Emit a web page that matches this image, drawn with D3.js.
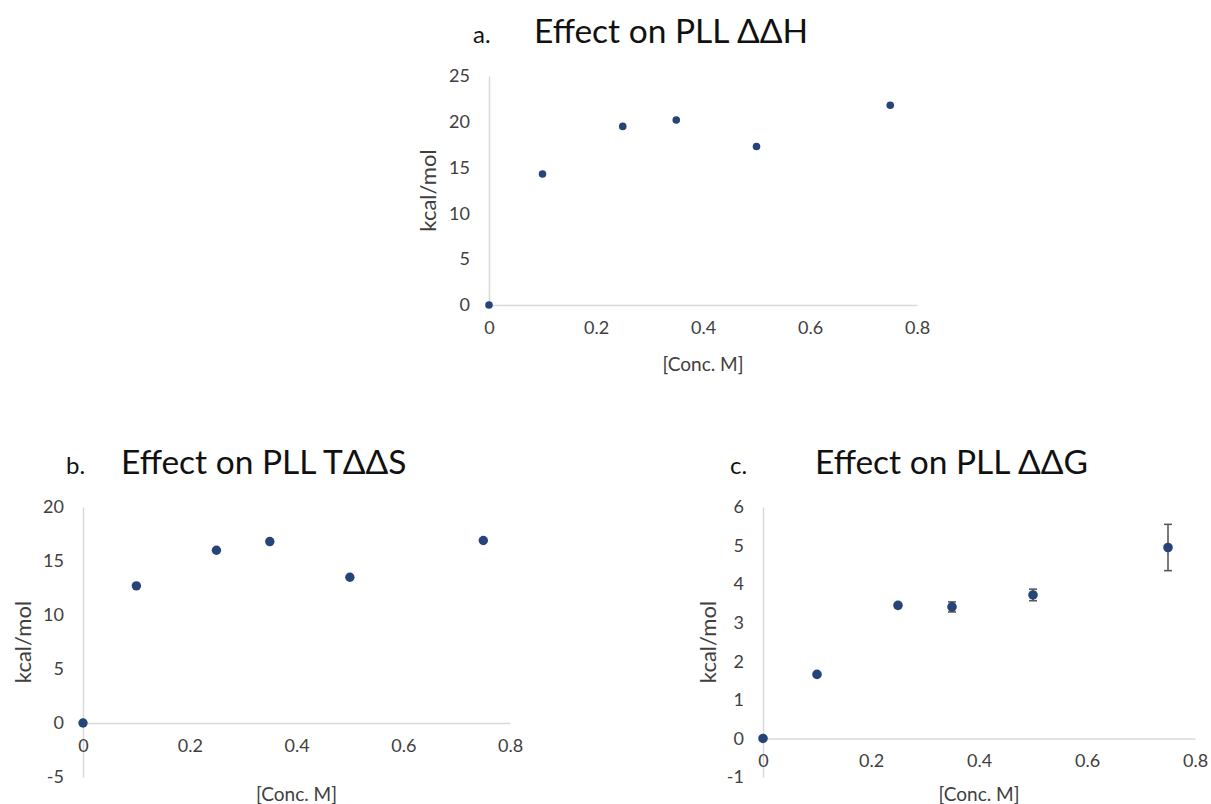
<!DOCTYPE html>
<html><head><meta charset="utf-8">
<script src="https://cdn.jsdelivr.net/npm/d3@7"></script>
<style>
html,body{margin:0;padding:0;background:#fff;}
svg{display:block;}
text{font-family:Lato,"Open Sans","Noto Sans",sans-serif;}
</style></head>
<body>
<svg id="chart" width="1211" height="804"></svg>
<script>
// ---- data ----
const conc = [0, 0.1, 0.25, 0.35, 0.5, 0.75];
const dH   = [0, 14.3, 19.5, 20.2, 17.3, 21.8];
const TdS  = [0, 12.7, 16.0, 16.8, 13.5, 16.9];
const dG   = [0, 1.66, 3.45, 3.41, 3.72, 4.95];
const dGerr= [0, 0.03, 0.05, 0.13, 0.15, 0.60];
const xTicks = [0, 0.2, 0.4, 0.6, 0.8];
const yTicksA = [0, 5, 10, 15, 20, 25];
const yTicksB = [-5, 0, 5, 10, 15, 20];
const yTicksC = [-1, 0, 1, 2, 3, 4, 5, 6];
const panelLetters = ["a.", "b.", "c."];
const titles = ["Effect on PLL ΔΔH", "Effect on PLL TΔΔS", "Effect on PLL ΔΔG"];
const xTitle = "[Conc. M]";
const yTitle = "kcal/mol";

// ---- layout ----
const panels = [
  {vals: dH,  err: null,  yDom:[0,25], yT:yTicksA, x0:489, x1:917, yTop:76,  yBot:305, r:3.8,
   letterX:473, titleX:534, titleY:43, yTitleX:428, xTitleY:364},
  {vals: TdS, err: null,  yDom:[-5,20], yT:yTicksB, x0:83, x1:510, yTop:507, yBot:777, r:4.7,
   letterX:66, titleX:121, titleY:474, yTitleX:23, xTitleY:794},
  {vals: dG,  err: dGerr, yDom:[-1,6], yT:yTicksC, x0:763, x1:1195, yTop:507, yBot:777, r:4.8,
   letterX:730, titleX:815, titleY:474, yTitleX:708, xTitleY:794}
];

const svg = d3.select("#chart");
const dotColor = "#264478";
const axisColor = "#d9d9d9";
const tickColor = "#404040";

panels.forEach((p, i) => {
  const x = d3.scaleLinear().domain([0, 0.8]).range([p.x0, p.x1]);
  const y = d3.scaleLinear().domain(p.yDom).range([p.yBot, p.yTop]);
  const g = svg.append("g");

  // y axis
  const ya = g.append("g").attr("transform", `translate(${p.x0},0)`)
    .call(d3.axisLeft(y).tickValues(p.yT).tickSize(0).tickSizeOuter(0).tickPadding(19).tickFormat(d => String(d)));
  ya.select(".domain").attr("stroke", axisColor).attr("stroke-width", 1.5);
  ya.selectAll("text").attr("fill", tickColor).style("font-size", "18px");

  // x axis at y=0
  const xa = g.append("g").attr("transform", `translate(0,${y(0)})`)
    .call(d3.axisBottom(x).tickValues(xTicks).tickSize(0).tickSizeOuter(0).tickPadding(16)
      .tickFormat(d => d === 0 ? "0" : d3.format(".1f")(d)));
  xa.select(".domain").attr("stroke", axisColor).attr("stroke-width", 1.5);
  xa.selectAll("text").attr("fill", tickColor).style("font-size", "18px");

  // error bars
  if (p.err) {
    const eb = g.append("g").attr("stroke", "#595959").attr("stroke-width", 1.6);
    conc.forEach((c, k) => {
      const e = p.err[k];
      if (!e) return;
      eb.append("line").attr("x1", x(c)).attr("x2", x(c)).attr("y1", y(p.vals[k] - e)).attr("y2", y(p.vals[k] + e));
      [p.vals[k] - e, p.vals[k] + e].forEach(v => {
        eb.append("line").attr("x1", x(c) - 4).attr("x2", x(c) + 4).attr("y1", y(v)).attr("y2", y(v));
      });
    });
  }

  // dots
  g.append("g").selectAll("circle").data(conc).join("circle")
    .attr("cx", d => x(d)).attr("cy", (d, k) => y(p.vals[k])).attr("r", p.r).attr("fill", dotColor);

  // titles
  g.append("text").attr("x", p.letterX).attr("y", p.titleY).text(panelLetters[i])
    .style("font-size", "24px").attr("fill", "#111");
  g.append("text").attr("x", p.titleX).attr("y", p.titleY).text(titles[i])
    .style("font-size", "33.5px").attr("fill", "#111");

  // axis titles
  g.append("text").attr("transform", `translate(${p.yTitleX},${(p.yTop + p.yBot) / 2})) rotate(-90)`.replace("))", ")"))
    .attr("text-anchor", "middle").attr("dy", "0.35em").text(yTitle)
    .style("font-size", "22px").attr("fill", tickColor);
  g.append("text").attr("x", (p.x0 + p.x1) / 2).attr("y", p.xTitleY).attr("text-anchor", "middle")
    .attr("dy", "0.35em").text(xTitle).style("font-size", "19px").attr("fill", tickColor);
});
</script>
</body></html>
